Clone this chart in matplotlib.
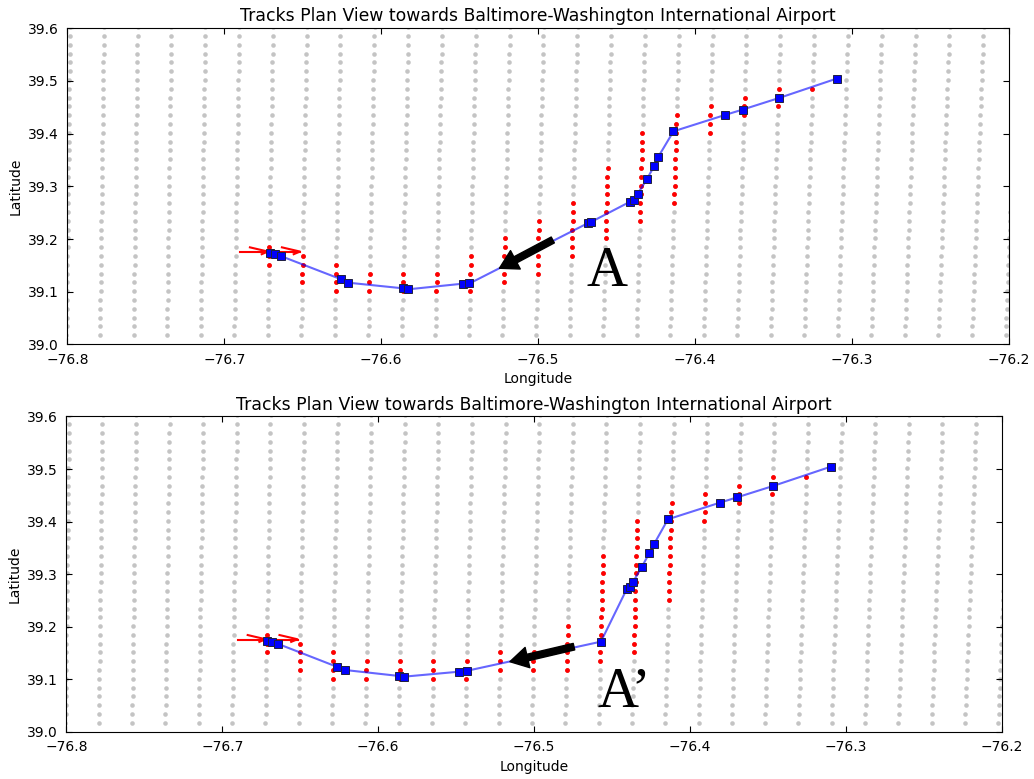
import matplotlib.pyplot as plt
import numpy as np

# 1 nm grid: column longitudes on the northern and southern rows, row latitudes
grid_lon_north = [-76.7983, -76.7768, -76.7552, -76.7337, -76.7121, -76.6905,
                  -76.6690, -76.6474, -76.6259, -76.6043, -76.5827, -76.5612,
                  -76.5396, -76.5180, -76.4965, -76.4749, -76.4534, -76.4318,
                  -76.4102, -76.3887, -76.3671, -76.3456, -76.3240, -76.3024,
                  -76.2809, -76.2593, -76.2378, -76.2162, -76.1946]
grid_lon_south = [-76.8006, -76.7792, -76.7578, -76.7365, -76.7151, -76.6937,
                  -76.6723, -76.6510, -76.6296, -76.6082, -76.5869, -76.5655,
                  -76.5441, -76.5228, -76.5014, -76.4800, -76.4586, -76.4373,
                  -76.4159, -76.3945, -76.3732, -76.3518, -76.3304, -76.3091,
                  -76.2877, -76.2663, -76.2450, -76.2236, -76.2022]
grid_lat = [39.6019, 39.5852, 39.5685, 39.5518, 39.5351, 39.5184, 39.5017,
            39.4850, 39.4683, 39.4516, 39.4349, 39.4182, 39.4015, 39.3848,
            39.3681, 39.3514, 39.3347, 39.3181, 39.3014, 39.2847, 39.2680,
            39.2513, 39.2346, 39.2179, 39.2012, 39.1845, 39.1678, 39.1511,
            39.1344, 39.1177, 39.1010, 39.0843, 39.0676, 39.0509, 39.0342,
            39.0175]

# highlighted grid points: column index and first/last row index
red_cols = [6, 7, 8, 9, 10, 11, 12, 13, 14, 15, 16, 17, 18, 19, 20, 21, 22]
red_first_a = [25, 26, 27, 28, 28, 28, 26, 24, 22, 20, 16, 12, 10, 9, 8, 7, 7]
red_last_a = [27, 29, 30, 30, 30, 30, 30, 29, 28, 26, 24, 22, 20, 12, 10, 9, 7]
red_first_b = [25, 26, 27, 28, 28, 28, 28, 27, 27, 24, 16, 12, 10, 9, 8, 7, 7]
red_last_b = [27, 29, 30, 30, 30, 30, 30, 29, 29, 29, 28, 27, 21, 12, 10, 9, 7]

# tracks
track_lon_a = [-76.6709, -76.6677, -76.6641, -76.6256, -76.6210, -76.5864,
               -76.5827, -76.5482, -76.5438, -76.4685, -76.4663, -76.4414,
               -76.4387, -76.4365, -76.4308, -76.4259, -76.4234, -76.4138,
               -76.3809, -76.3698, -76.3464, -76.3098]
track_lat_a = [39.1741, 39.1711, 39.1678, 39.1236, 39.1171, 39.1065,
               39.1046, 39.1152, 39.1156, 39.2299, 39.2324, 39.2709,
               39.2742, 39.2861, 39.3135, 39.3393, 39.3564, 39.4044,
               39.4355, 39.4456, 39.4678, 39.5045]
track_lon_b = [-76.6715, -76.6683, -76.6641, -76.6266, -76.6213, -76.5865,
               -76.5835, -76.5480, -76.5430, -76.4571, -76.4406, -76.4385,
               -76.4364, -76.4308, -76.4261, -76.4231, -76.4141, -76.3808,
               -76.3700, -76.3466, -76.3096]
track_lat_b = [39.1735, 39.1716, 39.1672, 39.1240, 39.1177, 39.1063,
               39.1050, 39.1145, 39.1162, 39.1716, 39.2713, 39.2751,
               39.2857, 39.3143, 39.3397, 39.3569, 39.4044, 39.4360,
               39.4459, 39.4678, 39.5045]

# runway direction marker
rwy_lon = [-76.6900, -76.6515]
rwy_lat = 39.1752


def column_lons(c, rows):
    n, s = grid_lon_north[c], grid_lon_south[c]
    lats = np.array([grid_lat[r] for r in rows])
    t = (grid_lat[0] - lats) / (grid_lat[0] - grid_lat[-1])
    return n + (s - n) * t, lats


def draw_panel(ax, lon, lat, red_first, red_last, arrow_tail, arrow_tip,
               label, label_xy):
    all_rows = range(len(grid_lat))
    for c in range(len(grid_lon_north)):
        xs, ys = column_lons(c, all_rows)
        ax.plot(xs, ys, 'o', color='#c4c4c4', ms=3.3, mew=0, zorder=1)
    for c, r0, r1 in zip(red_cols, red_first, red_last):
        xs, ys = column_lons(c, range(r0, r1 + 1))
        ax.plot(xs, ys, 'o', color='red', ms=3.5, mew=0, zorder=2)

    # runway heading chevrons
    ax.plot(rwy_lon, [rwy_lat, rwy_lat], color='red', lw=1.5, zorder=3)
    for tip in (-76.6722, -76.6518):
        ax.plot([tip - 0.0115, tip, tip - 0.004],
                [rwy_lat + 0.009, rwy_lat + 0.001, rwy_lat - 0.004],
                color='red', lw=1.5, zorder=3)

    ax.plot(lon, lat, '-', color='blue', alpha=0.6, lw=1.5, zorder=4)
    ax.plot(lon, lat, 's', color='blue', ms=6, mec='#202040', mew=0.7, zorder=5)

    ax.annotate('', xy=arrow_tip, xytext=arrow_tail,
                arrowprops=dict(facecolor='black', edgecolor='black',
                                width=4.8, headwidth=15, headlength=13,
                                shrink=0), zorder=6)
    ax.text(label_xy[0], label_xy[1], label, family='Liberation Serif',
            fontsize=41, ha='left', va='baseline', zorder=7)

    ax.set_xlim(-76.8, -76.2)
    ax.set_ylim(39.0, 39.6)
    ax.set_xticks([-76.8, -76.7, -76.6, -76.5, -76.4, -76.3, -76.2])
    ax.set_yticks([39.0, 39.1, 39.2, 39.3, 39.4, 39.5, 39.6])
    ax.tick_params(direction='in', top=True, right=True, labelsize=10,
                   length=4, pad=6)
    ax.set_xlabel('Longitude', fontsize=10)
    ax.set_ylabel('Latitude', fontsize=10)
    ax.set_title('Tracks Plan View towards Baltimore-Washington International Airport',
                 fontsize=12.4, pad=5)


fig = plt.figure(figsize=(10.34, 7.79), dpi=100)
ax1 = fig.add_axes([0.0652, 0.5579, 0.9106, 0.4058])
ax2 = fig.add_axes([0.0642, 0.0605, 0.9046, 0.4049])

draw_panel(ax1, track_lon_a, track_lat_a, red_first_a, red_last_a,
           (-76.4907, 39.1982), (-76.5247, 39.1445), 'A', (-76.4695, 39.1109))
draw_panel(ax2, track_lon_b, track_lat_b, red_first_b, red_last_b,
           (-76.4744, 39.1621), (-76.5155, 39.1335), 'A\u2019', (-76.4590, 39.0479))

fig.savefig('out.png', dpi=100)
